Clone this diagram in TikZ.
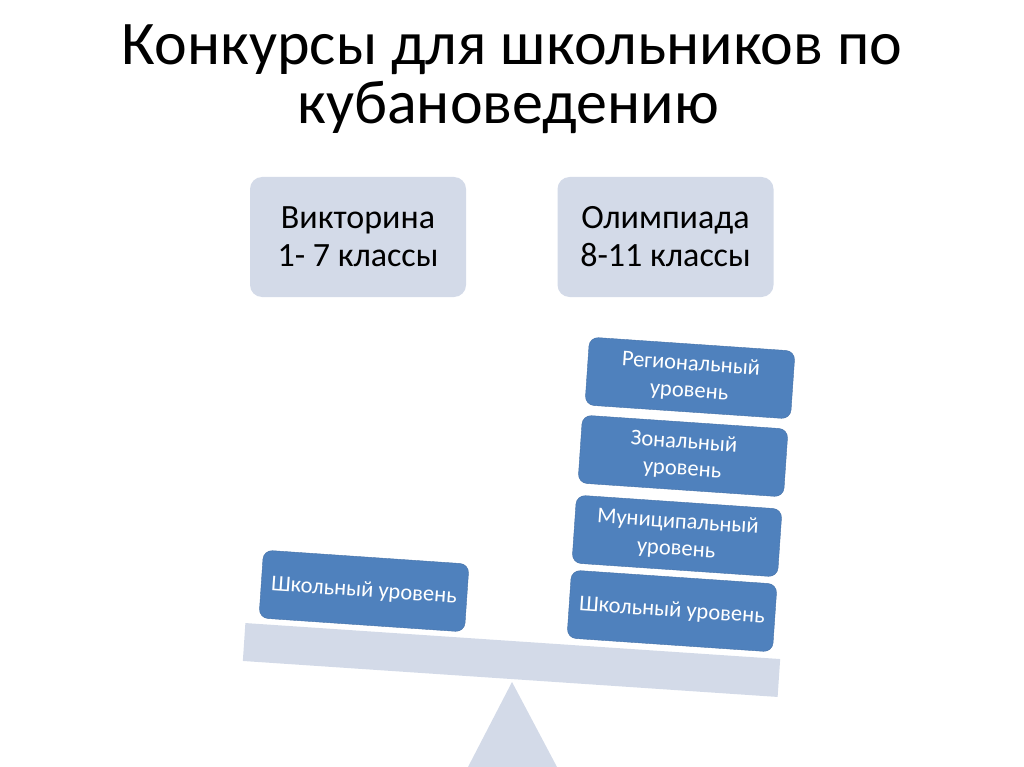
\documentclass[tikz,border=0pt]{standalone}
\usepackage{fontspec}
\setmainfont{Carlito}
\definecolor{lightbox}{HTML}{D3DAE8}
\definecolor{levelblue}{HTML}{4F81BD}
\definecolor{levelline}{HTML}{4672A8}
\begin{document}
\begin{tikzpicture}[x=1pt,y=-1pt,
  heading/.style={anchor=base, font=\fontsize{62}{62}\selectfont},
  contest/.style={fill=lightbox, rounded corners=12pt, minimum width=216pt, minimum height=120pt, align=center, font=\fontsize{34}{38}\selectfont},
  level/.style={fill=levelblue, draw=levelline, rounded corners=9pt, minimum width=206pt, minimum height=68pt, inner sep=0pt, align=center, text=white, font=\fontsize{22.5}{27}\selectfont, rotate=-3.9}]
\useasboundingbox (0,0) rectangle (1024,767);

% title
\node[heading] (title1) at (512,65) {Конкурсы для школьников по};
\node[heading] (title2) at (508,124) {кубановедению};

% the two contests
\node[contest] (quiz) at (358,237) {Викторина\\1- 7 классы};
\node[contest] (olymp) at (665.5,237) {Олимпиада\\8-11 классы};

% scales
\fill[lightbox] (512,682) -- (468,767) -- (557,767) -- cycle;
\node[fill=lightbox, minimum width=536pt, minimum height=38pt, inner sep=0pt, rotate=-3.85] (beam) at (511.5,660) {};

% left pan
\node[level] (school1) at (364,591) {Школьный уровень};

% right pan
\node[level] (school2) at (672,611) {Школьный уровень};
\node[level] (munic) at (677,536) {Муниципальный\\уровень};
\node[level] (zone) at (683,456) {Зональный\\уровень};
\node[level] (region) at (690,378) {Региональный\\уровень};
\end{tikzpicture}
\end{document}
